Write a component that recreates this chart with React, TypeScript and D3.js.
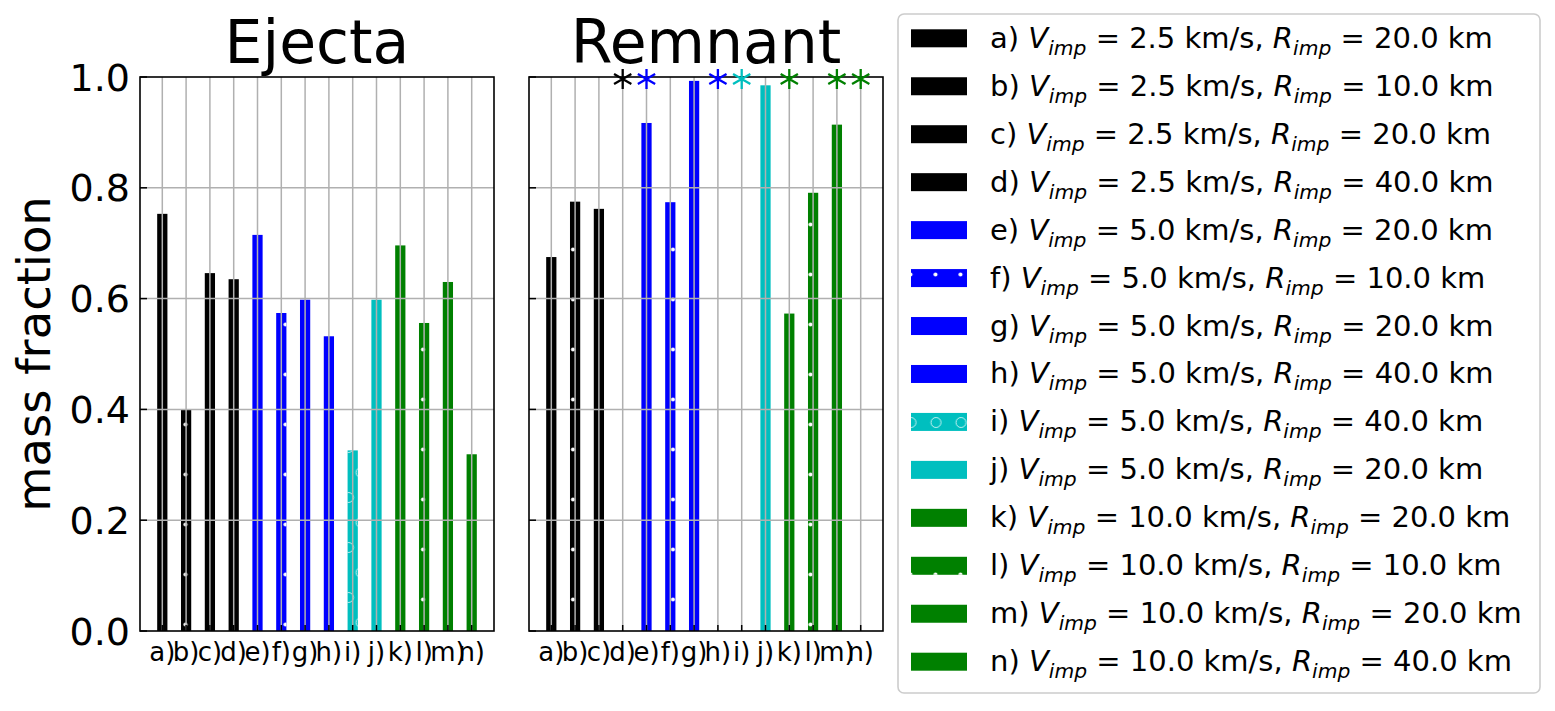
import React from "react";
import * as d3 from "d3";

// Impact cases a) .. n)
const categories = ["a", "b", "c", "d", "e", "f", "g", "h", "i", "j", "k", "l", "m", "n"];
const impactVelocity = [2.5, 2.5, 2.5, 2.5, 5.0, 5.0, 5.0, 5.0, 5.0, 5.0, 10.0, 10.0, 10.0, 10.0];
const impactRadius = [20.0, 10.0, 20.0, 40.0, 20.0, 10.0, 20.0, 40.0, 40.0, 20.0, 20.0, 10.0, 20.0, 40.0];
const caseColors = [
  "#000000", "#000000", "#000000", "#000000",
  "#0000ff", "#0000ff", "#0000ff", "#0000ff",
  "#00bfbf", "#00bfbf",
  "#008000", "#008000", "#008000", "#008000",
];
const caseHatch = ["", ".", "", "", "", ".", "", "", "o", "", "", ".", "", ""];

// Mass fractions
const ejectaFraction = [0.753, 0.4, 0.646, 0.635, 0.715, 0.574, 0.598, 0.532, 0.326, 0.598, 0.696, 0.556, 0.63, 0.319];
const remnantFraction = [0.675, 0.775, 0.762, null, 0.917, 0.774, 0.993, null, null, 0.985, 0.573, 0.791, 0.914, null];
// Cases flagged with an asterisk above the remnant panel
const remnantFlag = [false, false, false, true, true, false, false, true, true, false, true, false, true, true];

const yTicks = [0.0, 0.2, 0.4, 0.6, 0.8, 1.0];

const FONT = "'DejaVu Sans', 'Liberation Sans', sans-serif";
const W = 1555;
const H = 711;
const PLOT_W = 354;
const PLOT_TOP = 77;
const PLOT_BOTTOM = 631;

const y = d3.scaleLinear().domain([0, 1]).range([PLOT_BOTTOM, PLOT_TOP]);
const fmt1 = d3.format(".1f");

function hatchFill(h: string) {
  if (h === ".") return "url(#hatch-dots)";
  if (h === "o") return "url(#hatch-circles)";
  return null;
}

type PanelProps = {
  title: string;
  x0: number;
  values: (number | null)[];
  showYLabels: boolean;
  flags?: boolean[];
};

function Panel({ title, x0, values, showYLabels, flags }: PanelProps) {
  const x = d3.scalePoint<string>().domain(categories).range([x0, x0 + PLOT_W]).padding(0.937);
  const bw = x.step() * 0.43;
  const asterisk = d3.symbol().type(d3.symbolAsterisk).size(282)();
  return (
    <g>
      {/* bars */}
      {categories.map((c, i) => {
        const v = values[i];
        if (v == null) return null;
        const cx = x(c) as number;
        const hf = hatchFill(caseHatch[i]);
        return (
          <g key={c}>
            <rect x={cx - bw / 2} y={y(v)} width={bw} height={y(0) - y(v)} fill={caseColors[i]} />
            {hf && <rect x={cx - bw / 2} y={y(v)} width={bw} height={y(0) - y(v)} fill={hf} />}
          </g>
        );
      })}
      {/* grid */}
      {categories.map((c) => (
        <line key={"gx" + c} x1={x(c)} x2={x(c)} y1={PLOT_TOP} y2={PLOT_BOTTOM} stroke="#b0b0b0" strokeWidth={1.5} />
      ))}
      {yTicks.slice(1, -1).map((t) => (
        <line key={"gy" + t} x1={x0} x2={x0 + PLOT_W} y1={y(t)} y2={y(t)} stroke="#b0b0b0" strokeWidth={1.5} />
      ))}
      {/* inward ticks */}
      {categories.map((c) => (
        <line key={"tx" + c} x1={x(c)} x2={x(c)} y1={PLOT_BOTTOM} y2={PLOT_BOTTOM - 6} stroke="#000" strokeWidth={1.5} />
      ))}
      {yTicks.map((t) => (
        <line key={"ty" + t} x1={x0} x2={x0 + 7} y1={y(t)} y2={y(t)} stroke="#000" strokeWidth={1.5} />
      ))}
      {/* spines */}
      <rect x={x0} y={PLOT_TOP} width={PLOT_W} height={PLOT_BOTTOM - PLOT_TOP} fill="none" stroke="#000" strokeWidth={1.6} />
      {/* flags */}
      {flags &&
        categories.map((c, i) =>
          flags[i] ? (
            <path
              key={"f" + c}
              d={asterisk as string}
              transform={`translate(${x(c)},${y(1) + 2})`}
              fill="none"
              stroke={caseColors[i]}
              strokeWidth={2.3}
            />
          ) : null
        )}
      {/* x tick labels */}
      {categories.map((c) => (
        <text key={"lx" + c} x={x(c)} y={661} fontSize={26} textAnchor="middle" fontFamily={FONT}>
          {c + ")"}
        </text>
      ))}
      {/* y tick labels */}
      {showYLabels &&
        yTicks.map((t) => (
          <text key={"ly" + t} x={x0 - 10} y={y(t) + 13.5} fontSize={38} textAnchor="end" fontFamily={FONT}>
            {fmt1(t)}
          </text>
        ))}
      <text x={x0 + PLOT_W / 2} y={63} fontSize={60} textAnchor="middle" fontFamily={FONT}>
        {title}
      </text>
    </g>
  );
}

function Legend() {
  const rowY = d3.scalePoint<string>().domain(categories).range([38.3, 661.7]);
  const fs = 29;
  return (
    <g>
      <rect x={898} y={14} width={642} height={679} rx={6} fill="#fff" fillOpacity={0.8} stroke="#cccccc" strokeWidth={1.6} />
      {categories.map((c, i) => {
        const cy = rowY(c) as number;
        const hf = hatchFill(caseHatch[i]);
        return (
          <g key={"lg" + c}>
            <rect x={911} y={cy - 9} width={56} height={18} fill={caseColors[i]} />
            {hf && <rect x={911} y={cy - 9} width={56} height={18} fill={hf} />}
            <text x={990} y={cy + 9.5} fontSize={fs} fontFamily={FONT}>
              <tspan>{c + ") "}</tspan>
              <tspan fontStyle="italic">V</tspan>
              <tspan fontStyle="italic" fontSize={fs * 0.7} dy={7}>imp</tspan>
              <tspan dy={-7}>{` = ${fmt1(impactVelocity[i])} km/s, `}</tspan>
              <tspan fontStyle="italic">R</tspan>
              <tspan fontStyle="italic" fontSize={fs * 0.7} dy={7}>imp</tspan>
              <tspan dy={-7}>{` = ${fmt1(impactRadius[i])} km`}</tspan>
            </text>
          </g>
        );
      })}
    </g>
  );
}

export default function App() {
  return (
    <svg
      width={W}
      height={H}
      viewBox={`0 0 ${W} ${H}`}
      style={{ position: "absolute", left: 0, top: 0, background: "#fff" }}
    >
      <defs>
        <pattern id="hatch-dots" patternUnits="userSpaceOnUse" x={4.25} y={12} width={25} height={50}>
          <circle cx={6.25} cy={12.5} r={2} fill="#fff" />
          <circle cx={18.75} cy={37.5} r={2} fill="#fff" />
        </pattern>
        <pattern id="hatch-circles" patternUnits="userSpaceOnUse" x={4.75} y={10} width={25} height={50}>
          <circle cx={6.25} cy={12.5} r={5} fill="none" stroke="#fff" strokeOpacity={0.75} strokeWidth={1} />
          <circle cx={18.75} cy={37.5} r={5} fill="none" stroke="#fff" strokeOpacity={0.75} strokeWidth={1} />
        </pattern>
      </defs>
      <rect x={0} y={0} width={W} height={H} fill="#fff" />
      <text
        transform={`translate(50,${(PLOT_TOP + PLOT_BOTTOM) / 2}) rotate(-90)`}
        fontSize={46.5}
        textAnchor="middle"
        fontFamily={FONT}
      >
        mass fraction
      </text>
      <Panel title="Ejecta" x0={140} values={ejectaFraction} showYLabels={true} />
      <Panel title="Remnant" x0={529} values={remnantFraction} showYLabels={false} flags={remnantFlag} />
      <Legend />
    </svg>
  );
}
